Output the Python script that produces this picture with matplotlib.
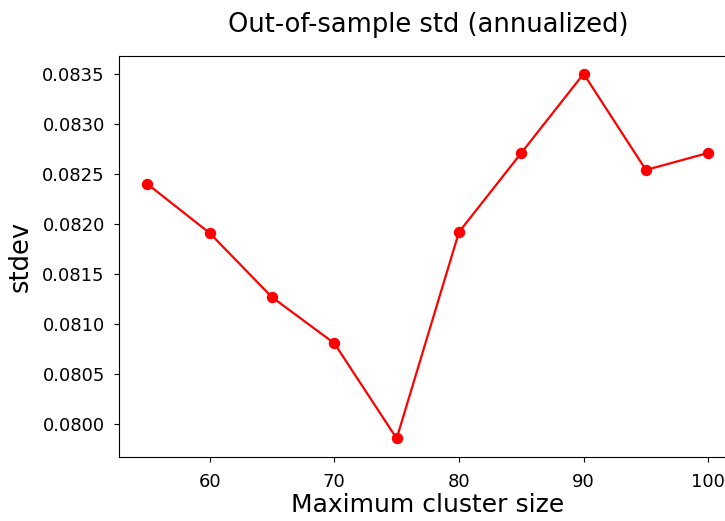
import numpy as np
import matplotlib
matplotlib.use("Agg")
import matplotlib.pyplot as plt

# Datos
cluster_size = [55, 60, 65, 70, 75, 80, 85, 90, 95, 100]
stdev = [0.08240, 0.08191, 0.08127, 0.08081, 0.07986,
         0.08192, 0.08271, 0.08350, 0.08254, 0.08271]

fig = plt.figure(figsize=(7.25, 5.21), dpi=100)
ax = fig.add_axes([0.1646, 0.1234, 0.851, 0.770])

ax.plot(cluster_size, stdev, color='red', marker='o', markersize=7.2, linewidth=1.6)

ax.set_title('Out-of-sample std (annualized)', fontsize=18.5, pad=17)
ax.set_xlabel('Maximum cluster size', fontsize=18, labelpad=2)
ax.set_ylabel('stdev', fontsize=18.5, labelpad=6)
ax.tick_params(labelsize=13)
ax.tick_params(axis='y', pad=7)
ax.tick_params(axis='x', pad=8)
ax.set_yticks(np.arange(0.0800, 0.0836, 0.0005))
ax.yaxis.set_major_formatter(matplotlib.ticker.FormatStrFormatter('%.4f'))

fig.savefig('out.png', dpi=100)
